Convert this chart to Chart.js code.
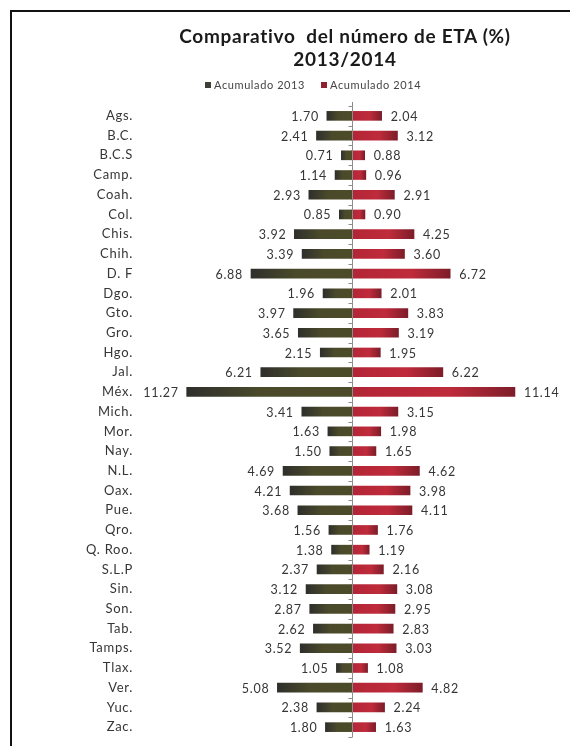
<!DOCTYPE html>
<html>
<head>
<meta charset="utf-8">
<script src="https://cdn.jsdelivr.net/npm/chart.js@4"></script>
<style>
  html, body { margin: 0; padding: 0; background: #fff; }
  #wrap { position: relative; width: 570px; height: 746px; overflow: hidden; }
  #frame {
    position: absolute; left: 10px; top: 10px; right: -4px; bottom: -4px;
    border-top: 2px solid #111; border-left: 2px solid #111;
  }
  canvas { position: absolute; left: 0; top: 0; }
  #title {
    position: absolute; left: 120px; width: 450px; top: 24px; z-index: 2;
    text-align: center; font: bold 19px/23px Lato, "Open Sans", sans-serif;
    letter-spacing: 0.7px; color: #1a1a1a; white-space: pre;
  }
  #legend {
    position: absolute; left: 205px; top: 78px; z-index: 2;
    font: 11px Lato, "Open Sans", sans-serif; letter-spacing: 0.6px; color: #444;
    line-height: 14px; white-space: nowrap;
  }
  .leg-item { display: inline-block; margin-right: 16px; }
  .leg-dot { display: inline-block; width: 6px; height: 6px; margin-right: 3px; vertical-align: 1px; }
</style>
</head>
<body>
<div id="wrap">
  <div id="frame"></div>
  <canvas id="chart" width="570" height="746"></canvas>
  <div id="title"></div>
  <div id="legend"></div>
</div>
<script>
'use strict';

/* Data */
const estados = ['Ags.', 'B.C.', 'B.C.S', 'Camp.', 'Coah.', 'Col.', 'Chis.', 'Chih.', 'D. F',
  'Dgo.', 'Gto.', 'Gro.', 'Hgo.', 'Jal.', 'Méx.', 'Mich.', 'Mor.', 'Nay.', 'N.L.', 'Oax.',
  'Pue.', 'Qro.', 'Q. Roo.', 'S.L.P', 'Sin.', 'Son.', 'Tab.', 'Tamps.', 'Tlax.', 'Ver.',
  'Yuc.', 'Zac.'];
const acum2013 = [1.70, 2.41, 0.71, 1.14, 2.93, 0.85, 3.92, 3.39, 6.88, 1.96, 3.97, 3.65,
  2.15, 6.21, 11.27, 3.41, 1.63, 1.50, 4.69, 4.21, 3.68, 1.56, 1.38, 2.37, 3.12, 2.87,
  2.62, 3.52, 1.05, 5.08, 2.38, 1.80];
const acum2014 = [2.04, 3.12, 0.88, 0.96, 2.91, 0.90, 4.25, 3.60, 6.72, 2.01, 3.83, 3.19,
  1.95, 6.22, 11.14, 3.15, 1.98, 1.65, 4.62, 3.98, 4.11, 1.76, 1.19, 2.16, 3.08, 2.95,
  2.83, 3.03, 1.08, 4.82, 2.24, 1.63];
const series = ['Acumulado 2013', 'Acumulado 2014'];
const titleLines = ['Comparativo  del número de ETA (%)', '2013/2014'];

const FONT = 'Lato, "Open Sans", sans-serif';
const C_TEXT = '#363636';
const C_2013 = '#3f3f36';
const C_2014 = '#8e2231';

/* gradient along each bar, dark at the outer end */
function barGradient(context, stops, fallback) {
  const chart = context.chart;
  if (!chart.chartArea) return fallback;
  const xs = chart.scales.x;
  const x0 = xs.getPixelForValue(0);
  const x1 = xs.getPixelForValue(context.raw);
  if (Math.abs(x1 - x0) < 1) return fallback;
  const g = chart.ctx.createLinearGradient(x0, 0, x1, 0);
  stops.forEach(([o, c]) => g.addColorStop(o, c));
  return g;
}

const G2013 = [[0, '#4c4b29'], [0.55, '#4a4a2b'], [1, '#2f2f2c']];
const G2014 = [[0, '#b22536'], [0.6, '#bf2b3b'], [1, '#7d1d29']];

/* Calibri-like spacing for all canvas text */
const spacing = {
  id: 'spacing',
  beforeInit(chart) { chart.ctx.letterSpacing = '0.7px'; },
  beforeLayout(chart) { chart.ctx.letterSpacing = '0.7px'; },
  beforeDraw(chart) { chart.ctx.letterSpacing = '0.7px'; },
};

/* zero line, small ticks and value labels */
const centerAxis = {
  id: 'centerAxis',
  afterDatasetsDraw(chart) {
    const { ctx, chartArea, scales: { x, y } } = chart;
    const x0 = Math.round(x.getPixelForValue(0)) + 0.5;
    const half = (y.getPixelForValue(1) - y.getPixelForValue(0)) / 2;
    ctx.save();
    ctx.strokeStyle = '#8c8c8c';
    ctx.lineWidth = 1;
    ctx.beginPath();
    ctx.moveTo(x0, chartArea.top - 4);
    ctx.lineTo(x0, chartArea.bottom);
    for (let i = 0; i <= estados.length; i++) {
      const yy = Math.round(y.getPixelForValue(i) - half) + 0.5;
      ctx.moveTo(x0 - 4, yy);
      ctx.lineTo(x0, yy);
    }
    ctx.stroke();

    ctx.fillStyle = C_TEXT;
    ctx.font = '12.5px ' + FONT;
    ctx.letterSpacing = '0.7px';
    ctx.textBaseline = 'middle';
    estados.forEach((_, i) => {
      const yy = y.getPixelForValue(i) + 1;
      ctx.textAlign = 'right';
      ctx.fillText(acum2013[i].toFixed(2), x.getPixelForValue(-acum2013[i]) - 8, yy);
      ctx.textAlign = 'left';
      ctx.fillText(acum2014[i].toFixed(2), x.getPixelForValue(acum2014[i]) + 9, yy);
    });
    ctx.restore();
  }
};

new Chart(document.getElementById('chart'), {
  type: 'bar',
  data: {
    labels: estados,
    datasets: [
      {
        label: series[0],
        data: acum2013.map(v => -v),
        backgroundColor: c => barGradient(c, G2013, '#4a4a2b'),
        barThickness: 9,
      },
      {
        label: series[1],
        data: acum2014,
        backgroundColor: c => barGradient(c, G2014, '#b22536'),
        barThickness: 9,
      },
    ],
  },
  options: {
    indexAxis: 'y',
    responsive: false,
    animation: false,
    layout: { padding: { left: 0, right: 0, top: 106, bottom: 9 } },
    plugins: {
      title: { display: false },
      legend: { display: false },
      tooltip: { enabled: false },
    },
    scales: {
      x: {
        display: false,
        stacked: true,
        min: -12,
        max: 14.9,
      },
      y: {
        stacked: true,
        grid: { display: true, drawOnChartArea: false, drawTicks: true, tickLength: 43, color: 'rgba(0,0,0,0)' },
        border: { display: false },
        ticks: { color: C_TEXT, font: { family: FONT, size: 13 }, padding: 0 },
        afterFit: s => { s.width = 176; },
      },
    },
  },
  plugins: [spacing, centerAxis],
});

/* HTML title and legend */
document.getElementById('title').textContent = titleLines.join('\n');
document.getElementById('legend').innerHTML = series
  .map((label, i) =>
    `<span class="leg-item"><span class="leg-dot" style="background:${[C_2013, C_2014][i]}"></span>${label}</span>`)
  .join('');
</script>
</body>
</html>
